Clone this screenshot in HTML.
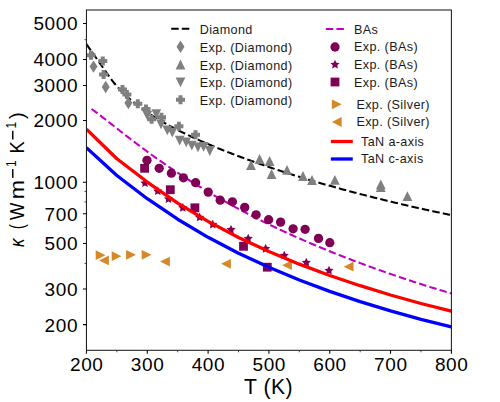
<!DOCTYPE html><html><head><meta charset="utf-8"><style>html,body{margin:0;padding:0;background:#fff;width:500px;height:402px;overflow:hidden}</style></head><body><svg width="500" height="402" viewBox="0 0 500 402" style="display:block">
<rect width="500" height="402" fill="#fff"/>
<defs><clipPath id="ax"><rect x="86.45" y="10.0" width="364.95" height="340.3"/></clipPath></defs>
<g clip-path="url(#ax)">
<path d="M86.45,44.20 L111.30,79.50 L113.01,81.66 L114.72,83.74 L116.43,85.73 L118.14,87.64 L119.85,89.47 L121.55,91.25 L123.26,92.96 L124.97,94.61 L126.68,96.21 L128.39,97.75 L130.10,99.26 L131.81,100.71 L133.52,102.13 L135.23,103.51 L136.94,104.85 L138.64,106.16 L140.35,107.44 L142.06,108.68 L143.77,109.90 L145.48,111.09 L147.19,112.26 L148.90,113.40 L150.61,114.52 L152.32,115.62 L154.03,116.69 L155.74,117.75 L157.44,118.79 L159.15,119.81 L160.86,120.82 L162.57,121.81 L164.28,122.78 L165.99,123.74 L167.70,124.69 L169.41,125.62 L171.12,126.54 L172.83,127.44 L174.53,128.34 L176.24,129.22 L177.95,130.10 L179.66,130.96 L181.37,131.81 L183.08,132.65 L184.79,133.49 L186.50,134.31 L188.21,135.13 L189.92,135.93 L191.63,136.73 L193.33,137.52 L195.04,138.31 L196.75,139.08 L198.46,139.85 L200.17,140.61 L201.88,141.37 L203.59,142.12 L205.30,142.86 L207.01,143.59 L208.72,144.32 L210.42,145.05 L212.13,145.76 L213.84,146.48 L215.55,147.18 L217.26,147.88 L218.97,148.58 L220.68,149.27 L222.39,149.95 L224.10,150.64 L225.81,151.31 L227.52,151.98 L229.22,152.65 L230.93,153.31 L232.64,153.97 L234.35,154.62 L236.06,155.27 L237.77,155.92 L239.48,156.56 L241.19,157.19 L242.90,157.83 L244.61,158.45 L246.31,159.08 L248.02,159.70 L249.73,160.32 L251.44,160.93 L253.15,161.54 L254.86,162.15 L256.57,162.75 L258.28,163.35 L259.99,163.95 L261.70,164.54 L263.41,165.13 L265.11,165.71 L266.82,166.30 L268.53,166.88 L270.24,167.45 L271.95,168.03 L273.66,168.60 L275.37,169.16 L277.08,169.73 L278.79,170.29 L280.50,170.85 L282.20,171.40 L283.91,171.95 L285.62,172.50 L287.33,173.05 L289.04,173.59 L290.75,174.13 L292.46,174.67 L294.17,175.21 L295.88,175.74 L297.59,176.27 L299.29,176.80 L301.00,177.32 L302.71,177.84 L304.42,178.36 L306.13,178.88 L307.84,179.40 L309.55,179.91 L311.26,180.42 L312.97,180.92 L314.68,181.43 L316.39,181.93 L318.09,182.43 L319.80,182.93 L321.51,183.42 L323.22,183.92 L324.93,184.41 L326.64,184.89 L328.35,185.38 L330.06,185.86 L331.77,186.34 L333.48,186.82 L335.18,187.30 L336.89,187.77 L338.60,188.25 L340.31,188.72 L342.02,189.18 L343.73,189.65 L345.44,190.11 L347.15,190.57 L348.86,191.03 L350.57,191.49 L352.28,191.94 L353.98,192.40 L355.69,192.85 L357.40,193.30 L359.11,193.74 L360.82,194.19 L362.53,194.63 L364.24,195.07 L365.95,195.51 L367.66,195.95 L369.37,196.38 L371.07,196.81 L372.78,197.24 L374.49,197.67 L376.20,198.10 L377.91,198.52 L379.62,198.95 L381.33,199.37 L383.04,199.79 L384.75,200.20 L386.46,200.62 L388.17,201.03 L389.87,201.45 L391.58,201.85 L393.29,202.26 L395.00,202.67 L396.71,203.07 L398.42,203.48 L400.13,203.88 L401.84,204.28 L403.55,204.67 L405.26,205.07 L406.96,205.46 L408.67,205.85 L410.38,206.24 L412.09,206.63 L413.80,207.02 L415.51,207.40 L417.22,207.79 L418.93,208.17 L420.64,208.55 L422.35,208.93 L424.06,209.30 L425.76,209.68 L427.47,210.05 L429.18,210.42 L430.89,210.79 L432.60,211.16 L434.31,211.53 L436.02,211.89 L437.73,212.26 L439.44,212.62 L441.15,212.98 L442.85,213.34 L444.56,213.70 L446.27,214.05 L447.98,214.40 L449.69,214.76 L451.40,215.11" fill="none" stroke="#000" stroke-width="2.05" stroke-dasharray="7.46,3.22"/>
<g fill="#808080"><polygon points="93.5,60.39999999999999 97.5,66.6 93.5,72.8 89.5,66.6"/><polygon points="105.7,80.8 109.7,87.0 105.7,93.2 101.7,87.0"/><polygon points="128.4,96.8 132.4,103.0 128.4,109.2 124.4,103.0"/><polygon points="251.00,160.10 246.10,169.90 255.90,169.90"/><polygon points="259.60,154.10 254.70,163.90 264.50,163.90"/><polygon points="269.60,156.10 264.70,165.90 274.50,165.90"/><polygon points="271.60,169.10 266.70,178.90 276.50,178.90"/><polygon points="287.00,165.00 282.10,174.80 291.90,174.80"/><polygon points="303.00,171.10 298.10,180.90 307.90,180.90"/><polygon points="312.00,175.10 307.10,184.90 316.90,184.90"/><polygon points="334.90,175.00 330.00,184.80 339.80,184.80"/><polygon points="380.80,179.50 375.90,189.30 385.70,189.30"/><polygon points="380.80,182.20 375.90,192.00 385.70,192.00"/><polygon points="407.40,191.20 402.50,201.00 412.30,201.00"/><polygon points="147.30,120.50 142.40,110.70 152.20,110.70"/><polygon points="156.30,119.10 151.40,109.30 161.20,109.30"/><polygon points="161.00,129.30 156.10,119.50 165.90,119.50"/><polygon points="167.30,135.20 162.40,125.40 172.20,125.40"/><polygon points="172.30,137.50 167.40,127.70 177.20,127.70"/><polygon points="179.70,145.50 174.80,135.70 184.60,135.70"/><polygon points="186.20,147.30 181.30,137.50 191.10,137.50"/><polygon points="191.80,150.50 186.90,140.70 196.70,140.70"/><polygon points="198.00,152.30 193.10,142.50 202.90,142.50"/><polygon points="203.60,151.80 198.70,142.00 208.50,142.00"/><polygon points="209.80,155.90 204.90,146.10 214.70,146.10"/><polygon points="89.00,50.70 93.00,50.70 93.00,53.20 95.50,53.20 95.50,57.20 93.00,57.20 93.00,59.70 89.00,59.70 89.00,57.20 86.50,57.20 86.50,53.20 89.00,53.20"/><polygon points="100.80,56.40 104.80,56.40 104.80,58.90 107.30,58.90 107.30,62.90 104.80,62.90 104.80,65.40 100.80,65.40 100.80,62.90 98.30,62.90 98.30,58.90 100.80,58.90"/><polygon points="101.60,69.90 105.60,69.90 105.60,72.40 108.10,72.40 108.10,76.40 105.60,76.40 105.60,78.90 101.60,78.90 101.60,76.40 99.10,76.40 99.10,72.40 101.60,72.40"/><polygon points="120.50,84.90 124.50,84.90 124.50,87.40 127.00,87.40 127.00,91.40 124.50,91.40 124.50,93.90 120.50,93.90 120.50,91.40 118.00,91.40 118.00,87.40 120.50,87.40"/><polygon points="124.90,89.90 128.90,89.90 128.90,92.40 131.40,92.40 131.40,96.40 128.90,96.40 128.90,98.90 124.90,98.90 124.90,96.40 122.40,96.40 122.40,92.40 124.90,92.40"/><polygon points="135.80,99.30 139.80,99.30 139.80,101.80 142.30,101.80 142.30,105.80 139.80,105.80 139.80,108.30 135.80,108.30 135.80,105.80 133.30,105.80 133.30,101.80 135.80,101.80"/><polygon points="144.00,104.40 148.00,104.40 148.00,106.90 150.50,106.90 150.50,110.90 148.00,110.90 148.00,113.40 144.00,113.40 144.00,110.90 141.50,110.90 141.50,106.90 144.00,106.90"/><polygon points="149.60,114.70 153.60,114.70 153.60,117.20 156.10,117.20 156.10,121.20 153.60,121.20 153.60,123.70 149.60,123.70 149.60,121.20 147.10,121.20 147.10,117.20 149.60,117.20"/><polygon points="159.50,112.70 163.50,112.70 163.50,115.20 166.00,115.20 166.00,119.20 163.50,119.20 163.50,121.70 159.50,121.70 159.50,119.20 157.00,119.20 157.00,115.20 159.50,115.20"/><polygon points="176.90,121.70 180.90,121.70 180.90,124.20 183.40,124.20 183.40,128.20 180.90,128.20 180.90,130.70 176.90,130.70 176.90,128.20 174.40,128.20 174.40,124.20 176.90,124.20"/><polygon points="193.50,130.30 197.50,130.30 197.50,132.80 200.00,132.80 200.00,136.80 197.50,136.80 197.50,139.30 193.50,139.30 193.50,136.80 191.00,136.80 191.00,132.80 193.50,132.80"/></g>
<path d="M91.50,108.96 L93.31,110.27 L95.12,111.59 L96.93,112.94 L98.73,114.30 L100.54,115.68 L102.35,117.07 L104.16,118.47 L105.97,119.88 L107.78,121.29 L109.59,122.71 L111.39,124.13 L113.20,125.55 L115.01,126.97 L116.82,128.39 L118.63,129.81 L120.44,131.22 L122.25,132.64 L124.05,134.05 L125.86,135.45 L127.67,136.85 L129.48,138.24 L131.29,139.63 L133.10,141.01 L134.91,142.39 L136.71,143.76 L138.52,145.12 L140.33,146.48 L142.14,147.83 L143.95,149.17 L145.76,150.50 L147.56,151.83 L149.37,153.15 L151.18,154.46 L152.99,155.76 L154.80,157.06 L156.61,158.34 L158.42,159.62 L160.22,160.90 L162.03,162.16 L163.84,163.42 L165.65,164.67 L167.46,165.91 L169.27,167.14 L171.08,168.36 L172.88,169.58 L174.69,170.79 L176.50,171.99 L178.31,173.19 L180.12,174.37 L181.93,175.55 L183.74,176.72 L185.54,177.89 L187.35,179.04 L189.16,180.19 L190.97,181.33 L192.78,182.47 L194.59,183.60 L196.40,184.72 L198.20,185.83 L200.01,186.93 L201.82,188.03 L203.63,189.12 L205.44,190.21 L207.25,191.29 L209.06,192.36 L210.86,193.42 L212.67,194.48 L214.48,195.53 L216.29,196.58 L218.10,197.62 L219.91,198.65 L221.72,199.67 L223.52,200.69 L225.33,201.70 L227.14,202.71 L228.95,203.71 L230.76,204.71 L232.57,205.69 L234.37,206.68 L236.18,207.65 L237.99,208.62 L239.80,209.59 L241.61,210.55 L243.42,211.50 L245.23,212.45 L247.03,213.39 L248.84,214.33 L250.65,215.26 L252.46,216.18 L254.27,217.10 L256.08,218.02 L257.89,218.93 L259.69,219.83 L261.50,220.73 L263.31,221.63 L265.12,222.52 L266.93,223.40 L268.74,224.28 L270.55,225.15 L272.35,226.02 L274.16,226.89 L275.97,227.74 L277.78,228.60 L279.59,229.45 L281.40,230.29 L283.21,231.13 L285.01,231.97 L286.82,232.80 L288.63,233.63 L290.44,234.45 L292.25,235.27 L294.06,236.08 L295.87,236.89 L297.67,237.70 L299.48,238.50 L301.29,239.29 L303.10,240.08 L304.91,240.87 L306.72,241.66 L308.53,242.44 L310.33,243.21 L312.14,243.98 L313.95,244.75 L315.76,245.51 L317.57,246.27 L319.38,247.03 L321.18,247.78 L322.99,248.53 L324.80,249.27 L326.61,250.01 L328.42,250.75 L330.23,251.48 L332.04,252.21 L333.84,252.94 L335.65,253.66 L337.46,254.38 L339.27,255.09 L341.08,255.81 L342.89,256.51 L344.70,257.22 L346.50,257.92 L348.31,258.62 L350.12,259.31 L351.93,260.00 L353.74,260.69 L355.55,261.37 L357.36,262.05 L359.16,262.73 L360.97,263.41 L362.78,264.08 L364.59,264.75 L366.40,265.41 L368.21,266.07 L370.02,266.73 L371.82,267.39 L373.63,268.04 L375.44,268.69 L377.25,269.34 L379.06,269.98 L380.87,270.62 L382.68,271.26 L384.48,271.89 L386.29,272.52 L388.10,273.15 L389.91,273.78 L391.72,274.40 L393.53,275.02 L395.34,275.64 L397.14,276.26 L398.95,276.87 L400.76,277.48 L402.57,278.09 L404.38,278.69 L406.19,279.29 L407.99,279.89 L409.80,280.49 L411.61,281.08 L413.42,281.67 L415.23,282.26 L417.04,282.85 L418.85,283.43 L420.65,284.01 L422.46,284.59 L424.27,285.16 L426.08,285.74 L427.89,286.31 L429.70,286.88 L431.51,287.44 L433.31,288.01 L435.12,288.57 L436.93,289.13 L438.74,289.68 L440.55,290.24 L442.36,290.79 L444.17,291.34 L445.97,291.89 L447.78,292.43 L449.59,292.98 L451.40,293.52" fill="none" stroke="#bf00bf" stroke-width="2.05" stroke-dasharray="7.46,3.22"/>
<g fill="#800055"><circle cx="147" cy="160.3" r="4.65"/><circle cx="159.2" cy="168.3" r="4.65"/><circle cx="171.4" cy="173.2" r="4.65"/><circle cx="183.4" cy="177.8" r="4.65"/><circle cx="195.6" cy="182.7" r="4.65"/><circle cx="208.2" cy="192.1" r="4.65"/><circle cx="220.2" cy="200.2" r="4.65"/><circle cx="232.4" cy="201.8" r="4.65"/><circle cx="244.7" cy="207.4" r="4.65"/><circle cx="256.1" cy="214.8" r="4.65"/><circle cx="268.6" cy="219.7" r="4.65"/><circle cx="280.6" cy="222.1" r="4.65"/><circle cx="293.1" cy="228.8" r="4.65"/><circle cx="305.1" cy="229.3" r="4.65"/><circle cx="318.5" cy="238.4" r="4.65"/><circle cx="329.8" cy="242.7" r="4.65"/><polygon points="145.00,178.40 146.41,181.26 149.57,181.72 147.28,183.94 147.82,187.08 145.00,185.60 142.18,187.08 142.72,183.94 140.43,181.72 143.59,181.26"/><polygon points="157.80,186.40 159.21,189.26 162.37,189.72 160.08,191.94 160.62,195.08 157.80,193.60 154.98,195.08 155.52,191.94 153.23,189.72 156.39,189.26"/><polygon points="168.50,194.30 169.91,197.16 173.07,197.62 170.78,199.84 171.32,202.98 168.50,201.50 165.68,202.98 166.22,199.84 163.93,197.62 167.09,197.16"/><polygon points="182.80,203.00 184.21,205.86 187.37,206.32 185.08,208.54 185.62,211.68 182.80,210.20 179.98,211.68 180.52,208.54 178.23,206.32 181.39,205.86"/><polygon points="199.60,212.60 201.01,215.46 204.17,215.92 201.88,218.14 202.42,221.28 199.60,219.80 196.78,221.28 197.32,218.14 195.03,215.92 198.19,215.46"/><polygon points="212.80,219.80 214.21,222.66 217.37,223.12 215.08,225.34 215.62,228.48 212.80,227.00 209.98,228.48 210.52,225.34 208.23,223.12 211.39,222.66"/><polygon points="231.00,225.00 232.41,227.86 235.57,228.32 233.28,230.54 233.82,233.68 231.00,232.20 228.18,233.68 228.72,230.54 226.43,228.32 229.59,227.86"/><polygon points="248.20,233.80 249.61,236.66 252.77,237.12 250.48,239.34 251.02,242.48 248.20,241.00 245.38,242.48 245.92,239.34 243.63,237.12 246.79,236.66"/><polygon points="265.60,244.00 267.01,246.86 270.17,247.32 267.88,249.54 268.42,252.68 265.60,251.20 262.78,252.68 263.32,249.54 261.03,247.32 264.19,246.86"/><polygon points="284.30,250.80 285.71,253.66 288.87,254.12 286.58,256.34 287.12,259.48 284.30,258.00 281.48,259.48 282.02,256.34 279.73,254.12 282.89,253.66"/><polygon points="306.30,257.80 307.71,260.66 310.87,261.12 308.58,263.34 309.12,266.48 306.30,265.00 303.48,266.48 304.02,263.34 301.73,261.12 304.89,260.66"/><polygon points="329.00,265.80 330.41,268.66 333.57,269.12 331.28,271.34 331.82,274.48 329.00,273.00 326.18,274.48 326.72,271.34 324.43,269.12 327.59,268.66"/><rect x="140.20" y="163.90" width="8.8" height="8.8"/><rect x="165.90" y="185.30" width="8.8" height="8.8"/><rect x="190.50" y="203.40" width="8.8" height="8.8"/><rect x="239.10" y="241.90" width="8.8" height="8.8"/><rect x="262.90" y="262.80" width="8.8" height="8.8"/></g>
<g fill="#d68826"><polygon points="105.50,255.20 95.70,250.30 95.70,260.10"/><polygon points="121.50,256.20 111.70,251.30 111.70,261.10"/><polygon points="135.90,254.80 126.10,249.90 126.10,259.70"/><polygon points="151.50,254.80 141.70,249.90 141.70,259.70"/><polygon points="99.10,260.40 108.90,255.50 108.90,265.30"/><polygon points="160.10,261.60 169.90,256.70 169.90,266.50"/><polygon points="221.10,263.80 230.90,258.90 230.90,268.70"/><polygon points="282.10,265.20 291.90,260.30 291.90,270.10"/><polygon points="343.70,266.70 353.50,261.80 353.50,271.60"/></g>
<path d="M86.45,129.20 L116.86,158.72 L147.27,182.06 L177.67,203.04 L208.08,221.37 L238.49,237.42 L268.90,251.57 L299.31,264.17 L329.71,275.47 L360.12,285.69 L390.53,294.99 L420.94,303.50 L451.35,311.08" fill="none" stroke="#f00" stroke-width="3.3" stroke-linejoin="round"/>
<path d="M86.45,147.60 L116.86,175.53 L147.27,198.70 L177.67,219.24 L208.08,237.30 L238.49,253.22 L268.90,267.35 L299.31,279.98 L329.71,291.33 L360.12,301.58 L390.53,310.88 L420.94,319.37 L451.35,326.87" fill="none" stroke="#00f" stroke-width="3.3" stroke-linejoin="round"/>
</g>
<rect x="86.45" y="10.0" width="364.95" height="340.3" fill="none" stroke="#1c1c1c" stroke-width="1.05"/>
<path d="M86.45,350.3 V353.8 M147.28,350.3 V353.8 M208.10,350.3 V353.8 M268.93,350.3 V353.8 M329.75,350.3 V353.8 M390.57,350.3 V353.8 M451.40,350.3 V353.8 M86.45,23.5 H82.95 M86.45,59.5 H82.95 M86.45,85.4 H82.95 M86.45,120.5 H82.95 M86.45,182.2 H82.95 M86.45,213.7 H82.95 M86.45,243.5 H82.95 M86.45,289.0 H82.95 M86.45,324.6 H82.95" stroke="#000" stroke-width="1.05" fill="none"/>
<path d="M116.86,350.3 V352.3 M177.69,350.3 V352.3 M238.51,350.3 V352.3 M299.34,350.3 V352.3 M360.16,350.3 V352.3 M420.99,350.3 V352.3 M86.45,39.7 H84.45 M86.45,191.4 H84.45 M86.45,201.9 H84.45 M86.45,227.5 H84.45 M86.45,263.4 H84.45" stroke="#222" stroke-width="0.8" fill="none"/>
<text x="86.75" y="371.3" font-family="Liberation Sans, sans-serif" font-size="19.0" letter-spacing="0.6" text-anchor="middle" fill="#000">200</text>
<text x="147.58" y="371.3" font-family="Liberation Sans, sans-serif" font-size="19.0" letter-spacing="0.6" text-anchor="middle" fill="#000">300</text>
<text x="208.40" y="371.3" font-family="Liberation Sans, sans-serif" font-size="19.0" letter-spacing="0.6" text-anchor="middle" fill="#000">400</text>
<text x="269.23" y="371.3" font-family="Liberation Sans, sans-serif" font-size="19.0" letter-spacing="0.6" text-anchor="middle" fill="#000">500</text>
<text x="330.05" y="371.3" font-family="Liberation Sans, sans-serif" font-size="19.0" letter-spacing="0.6" text-anchor="middle" fill="#000">600</text>
<text x="390.88" y="371.3" font-family="Liberation Sans, sans-serif" font-size="19.0" letter-spacing="0.6" text-anchor="middle" fill="#000">700</text>
<text x="451.70" y="371.3" font-family="Liberation Sans, sans-serif" font-size="19.0" letter-spacing="0.6" text-anchor="middle" fill="#000">800</text>
<text x="78.10" y="30.40" font-family="Liberation Sans, sans-serif" font-size="19.0" letter-spacing="0.6" text-anchor="end" fill="#000">5000</text>
<text x="78.10" y="66.40" font-family="Liberation Sans, sans-serif" font-size="19.0" letter-spacing="0.6" text-anchor="end" fill="#000">4000</text>
<text x="78.10" y="92.30" font-family="Liberation Sans, sans-serif" font-size="19.0" letter-spacing="0.6" text-anchor="end" fill="#000">3000</text>
<text x="78.10" y="127.40" font-family="Liberation Sans, sans-serif" font-size="19.0" letter-spacing="0.6" text-anchor="end" fill="#000">2000</text>
<text x="78.10" y="189.10" font-family="Liberation Sans, sans-serif" font-size="19.0" letter-spacing="0.6" text-anchor="end" fill="#000">1000</text>
<text x="78.10" y="220.60" font-family="Liberation Sans, sans-serif" font-size="19.0" letter-spacing="0.6" text-anchor="end" fill="#000">700</text>
<text x="78.10" y="250.40" font-family="Liberation Sans, sans-serif" font-size="19.0" letter-spacing="0.6" text-anchor="end" fill="#000">500</text>
<text x="78.10" y="295.90" font-family="Liberation Sans, sans-serif" font-size="19.0" letter-spacing="0.6" text-anchor="end" fill="#000">300</text>
<text x="78.10" y="331.50" font-family="Liberation Sans, sans-serif" font-size="19.0" letter-spacing="0.6" text-anchor="end" fill="#000">200</text>
<text x="268.6" y="393.6" font-family="Liberation Sans, sans-serif" font-size="21.2" letter-spacing="0.5" text-anchor="middle" fill="#000">T (K)</text>
<text transform="translate(24.2,242.35) rotate(-90) scale(0.869,1)" x="-5.45" y="0" font-family="Liberation Sans, sans-serif" font-size="19.5" font-style="italic" fill="#000">κ</text>
<text transform="translate(24.2,226.30) rotate(-90) scale(0.800,1)" x="-3.79" y="0" font-family="Liberation Sans, sans-serif" font-size="19.5" fill="#000">(</text>
<text transform="translate(24.2,211.45) rotate(-90) scale(0.937,1)" x="-9.21" y="0" font-family="Liberation Sans, sans-serif" font-size="19.5" fill="#000">W</text>
<text transform="translate(24.2,189.50) rotate(-90) scale(1.186,1)" x="-8.13" y="0" font-family="Liberation Sans, sans-serif" font-size="19.5" fill="#000">m</text>
<text transform="translate(16.3,163.50) rotate(-90) scale(0.862,1)" x="-4.08" y="0" font-family="Liberation Sans, sans-serif" font-size="14.0" fill="#000">1</text>
<text transform="translate(24.2,146.80) rotate(-90) scale(0.947,1)" x="-7.19" y="0" font-family="Liberation Sans, sans-serif" font-size="19.5" fill="#000">K</text>
<text transform="translate(16.3,125.05) rotate(-90) scale(0.845,1)" x="-4.08" y="0" font-family="Liberation Sans, sans-serif" font-size="14.0" fill="#000">1</text>
<text transform="translate(24.2,116.10) rotate(-90) scale(1.045,1)" x="-2.70" y="0" font-family="Liberation Sans, sans-serif" font-size="19.5" fill="#000">)</text>
<rect x="12.05" y="169.1" width="1.45" height="8.80" fill="#000"/>
<rect x="12.05" y="130.8" width="1.45" height="8.70" fill="#000"/>
<path d="M171.2,28.8 H190.2" stroke="#000" stroke-width="2.05" stroke-dasharray="7.5,3.1"/>
<text x="199.7" y="33.70" font-family="Liberation Sans, sans-serif" font-size="12.6" letter-spacing="0.38" fill="#1a1a1a">Diamond</text>
<g fill="#808080"><polygon points="180.5,40.599999999999994 184.5,46.8 180.5,53.0 176.5,46.8"/><polygon points="180.50,59.60 175.60,69.40 185.40,69.40"/><polygon points="180.50,87.30 175.60,77.50 185.40,77.50"/><polygon points="178.50,95.30 182.50,95.30 182.50,97.80 185.00,97.80 185.00,101.80 182.50,101.80 182.50,104.30 178.50,104.30 178.50,101.80 176.00,101.80 176.00,97.80 178.50,97.80"/></g>
<text x="199.7" y="51.60" font-family="Liberation Sans, sans-serif" font-size="12.6" letter-spacing="0.38" fill="#1a1a1a">Exp. (Diamond)</text>
<text x="199.7" y="69.50" font-family="Liberation Sans, sans-serif" font-size="12.6" letter-spacing="0.38" fill="#1a1a1a">Exp. (Diamond)</text>
<text x="199.7" y="87.30" font-family="Liberation Sans, sans-serif" font-size="12.6" letter-spacing="0.38" fill="#1a1a1a">Exp. (Diamond)</text>
<text x="199.7" y="105.20" font-family="Liberation Sans, sans-serif" font-size="12.6" letter-spacing="0.38" fill="#1a1a1a">Exp. (Diamond)</text>
<path d="M325.8,28.9 H344.6" stroke="#bf00bf" stroke-width="2.05" stroke-dasharray="7.5,3.1"/>
<text x="354" y="33.70" font-family="Liberation Sans, sans-serif" font-size="12.6" letter-spacing="0.38" fill="#1a1a1a">BAs</text>
<g fill="#800055"><circle cx="335" cy="47" r="4.65"/><polygon points="335.00,59.80 336.41,62.66 339.57,63.12 337.28,65.34 337.82,68.48 335.00,67.00 332.18,68.48 332.72,65.34 330.43,63.12 333.59,62.66"/><rect x="330.60" y="77.60" width="8.8" height="8.8"/></g>
<text x="354" y="51.30" font-family="Liberation Sans, sans-serif" font-size="12.6" letter-spacing="0.38" fill="#1a1a1a">Exp. (BAs)</text>
<text x="354" y="68.90" font-family="Liberation Sans, sans-serif" font-size="12.6" letter-spacing="0.38" fill="#1a1a1a">Exp. (BAs)</text>
<text x="354" y="86.50" font-family="Liberation Sans, sans-serif" font-size="12.6" letter-spacing="0.38" fill="#1a1a1a">Exp. (BAs)</text>
<g fill="#d68826"><polygon points="341.70,104.30 331.90,99.40 331.90,109.20"/><polygon points="331.90,122.00 341.70,117.10 341.70,126.90"/></g>
<text x="356.4" y="108.70" font-family="Liberation Sans, sans-serif" font-size="12.6" letter-spacing="0.38" fill="#1a1a1a">Exp. (Silver)</text>
<text x="356.4" y="126.30" font-family="Liberation Sans, sans-serif" font-size="12.6" letter-spacing="0.38" fill="#1a1a1a">Exp. (Silver)</text>
<path d="M332.5,141.5 H351.1" stroke="#f00" stroke-width="3.3" stroke-linecap="square"/>
<path d="M332.5,159 H351.1" stroke="#00f" stroke-width="3.3" stroke-linecap="square"/>
<text x="361" y="145.90" font-family="Liberation Sans, sans-serif" font-size="12.6" letter-spacing="0.38" fill="#1a1a1a">TaN a-axis</text>
<text x="361" y="163.40" font-family="Liberation Sans, sans-serif" font-size="12.6" letter-spacing="0.38" fill="#1a1a1a">TaN c-axis</text>
</svg></body></html>
